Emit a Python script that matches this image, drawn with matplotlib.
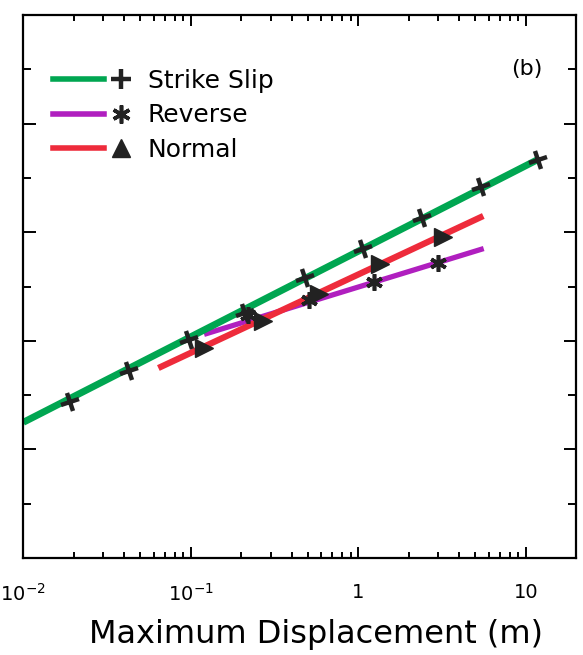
import matplotlib
matplotlib.use("Agg")
import matplotlib.pyplot as plt
from matplotlib.lines import Line2D
from matplotlib.legend_handler import HandlerBase
from matplotlib.markers import MarkerStyle
from matplotlib.transforms import Affine2D
from matplotlib.ticker import FixedLocator, FixedFormatter, NullFormatter, MultipleLocator

# values (x: maximum displacement in m, y: magnitude)
ss_line_x = [0.01, 11.8]
ss_line_y = [5.25, 7.67]
ss_mark_x = [0.019, 0.043, 0.097, 0.21, 0.48, 1.06, 2.4, 5.4, 11.8]
ss_mark_y = [5.44, 5.72, 6.01, 6.26, 6.58, 6.85, 7.13, 7.42, 7.67]

rev_line_x = [0.12, 5.6]
rev_line_y = [6.06, 6.85]
rev_mark_x = [0.22, 0.51, 1.24, 2.97]
rev_mark_y = [6.24, 6.38, 6.54, 6.72]

nor_line_x = [0.064, 5.57]
nor_line_y = [5.75, 7.15]
nor_mark_x = [0.12, 0.27, 0.58, 1.35, 3.2]
nor_mark_y = [5.93, 6.18, 6.43, 6.71, 6.96]

labels = ["Strike Slip", "Reverse", "Normal"]
x_ticks = [0.01, 0.1, 1, 10]
x_ticklabels = ["$10^{-2}$", "$10^{-1}$", "1", "10"]

green = "#00a651"
purple = "#b01fbf"
red = "#ee2b3b"
ink = "#222222"

plus = MarkerStyle("+", transform=Affine2D().rotate_deg(18))
star = (6, 2, 0)


class LineThenMarker(HandlerBase):
    # coloured line segment with the marker placed to its right
    def create_artists(self, legend, orig_handle, xdescent, ydescent,
                       width, height, fontsize, trans):
        line, mark = orig_handle
        y = height / 2 - ydescent
        seg = Line2D([-xdescent, -xdescent + 0.64 * width], [y, y])
        seg.update_from(line)
        seg.set_marker("")
        pt = Line2D([-xdescent + 0.86 * width], [y])
        pt.update_from(mark)
        pt.set_linestyle("")
        seg.set_transform(trans)
        pt.set_transform(trans)
        return [seg, pt]


fig = plt.figure(figsize=(5.83, 6.55), dpi=100)
ax = fig.add_axes([0.040, 0.148, 0.9485, 0.829])

ax.plot(rev_line_x, rev_line_y, color=purple, lw=3.8, solid_capstyle="butt")
ax.plot(nor_line_x, nor_line_y, color=red, lw=4.5, solid_capstyle="butt")
ax.plot(ss_line_x, ss_line_y, color=green, lw=5, solid_capstyle="butt")

ax.plot(rev_mark_x, rev_mark_y, ls="", marker=star, ms=12, mew=2.6, color=ink)
ax.plot(nor_mark_x, nor_mark_y, ls="", marker=">", ms=13, color=ink)
ax.plot(ss_mark_x, ss_mark_y, ls="", marker=plus, ms=14, mew=3.2, color=ink)

ax.set_xscale("log")
ax.set_xlim(0.01, 20)
ax.set_ylim(4, 9)

ax.xaxis.set_major_locator(FixedLocator(x_ticks))
ax.xaxis.set_major_formatter(FixedFormatter(x_ticklabels))
ax.xaxis.set_minor_formatter(NullFormatter())
ax.yaxis.set_major_locator(MultipleLocator(1))
ax.yaxis.set_minor_locator(MultipleLocator(0.5))

ax.tick_params(which="both", direction="in", top=True, right=True,
               color="black", width=1.4)
ax.tick_params(axis="x", which="major", length=8, labelsize=14, pad=18)
ax.tick_params(axis="x", which="minor", length=4)
ax.tick_params(axis="y", which="major", length=9, labelleft=False)
ax.tick_params(axis="y", which="minor", length=6)
for sp in ax.spines.values():
    sp.set_linewidth(1.6)

ax.set_xlabel("Maximum Displacement (m)", fontsize=23)
ax.xaxis.set_label_coords(0.53, -0.112)

ax.text(0.91, 0.90, "(b)", transform=ax.transAxes, fontsize=16,
        ha="center", va="center")

handles = [
    (Line2D([], [], color=green, lw=4),
     Line2D([], [], marker="+", ms=14, mew=3.2, color=ink)),
    (Line2D([], [], color=purple, lw=4),
     Line2D([], [], marker=star, ms=13, mew=2.6, color=ink)),
    (Line2D([], [], color=red, lw=4),
     Line2D([], [], marker="^", ms=13, color=ink)),
]
ax.legend(handles, labels, handler_map={tuple: LineThenMarker()},
          loc="upper left", bbox_to_anchor=(0.035, 0.92), frameon=False,
          fontsize=18, handlelength=3.2, handletextpad=0.6,
          labelspacing=0.43, borderaxespad=0)

fig.savefig("out.png", dpi=100)
